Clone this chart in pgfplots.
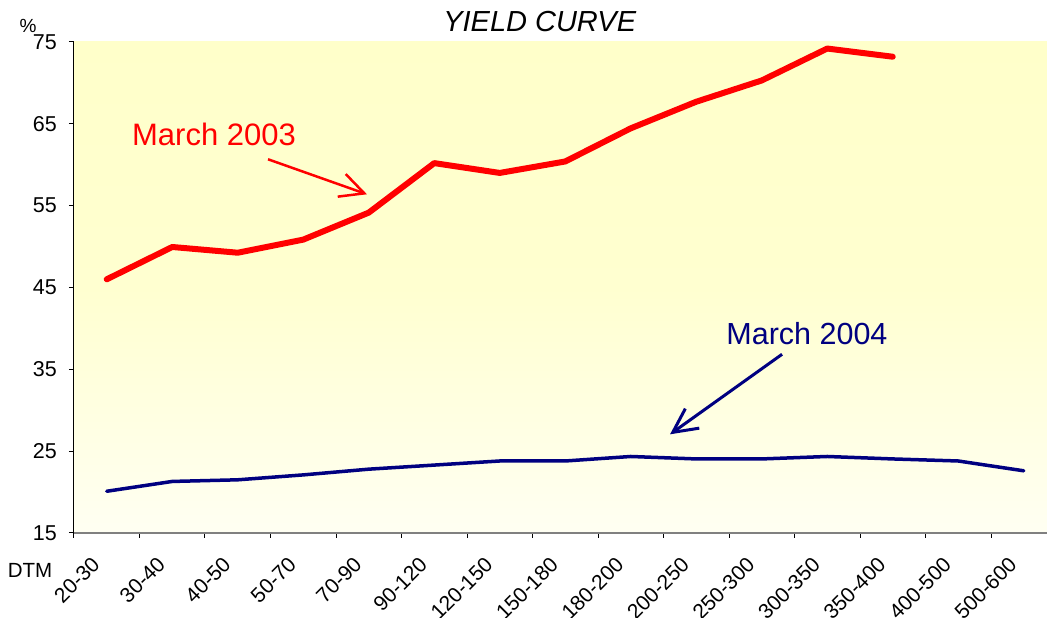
\documentclass[border=0pt]{standalone}
\usepackage{fontspec}
\setmainfont{Liberation Sans}
\usepackage{pgfplots}
\pgfplotsset{compat=1.18}
\usetikzlibrary{arrows.meta}
\definecolor{navyb}{RGB}{0,0,128}
\definecolor{bgtop}{RGB}{255,255,202}
\definecolor{bgbot}{RGB}{255,255,242}
\begin{document}
\begin{tikzpicture}
\begin{axis}[
  scale only axis,
  width=982.5pt, height=491pt,
  xmin=-0.5, xmax=14.5, ymin=15, ymax=75,
  clip=false,
  axis x line*=bottom, axis y line*=left,
  x axis line style={-, draw=gray, line width=1.3pt},
  y axis line style={-, draw=black, line width=1pt},
  axis background/.style={top color=bgtop, bottom color=bgbot, middle color=bgtop!85!bgbot, draw=none},
  tick align=outside,
  major tick length=5pt,
  tick style={draw=black, line width=1pt},
  ytick={15,25,35,45,55,65,75},
  xtick={-0.5,0.5,1.5,2.5,3.5,4.5,5.5,6.5,7.5,8.5,9.5,10.5,11.5,12.5,13.5},
  xticklabels={20-30,30-40,40-50,50-70,70-90,90-120,120-150,150-180,180-200,200-250,250-300,300-350,350-400,400-500,500-600},
  /pgf/number format/assume math mode=true,
  yticklabel style={font=\fontsize{21.5}{24}\selectfont, anchor=east, inner sep=0pt, xshift=-12pt},
  xticklabel style={font=\fontsize{21}{24}\selectfont, inner sep=0pt, xshift=22pt, yshift=-23pt, rotate=45, anchor=east},
]
\addplot[color=red, line width=6pt, line join=round, line cap=round] coordinates {
(0,46.0) (1,49.95) (2,49.25) (3,50.85) (4,54.15) (5,60.2) (6,59.0) (7,60.4) (8,64.45) (9,67.7) (10,70.3) (11,74.2) (12,73.2)
};
\addplot[color=navyb, line width=3.5pt, line join=round, line cap=round] coordinates {
(0,20.1) (1,21.3) (2,21.5) (3,22.1) (4,22.8) (5,23.3) (6,23.8) (7,23.8) (8,24.35) (9,24.05) (10,24.05) (11,24.35) (12,24.05) (13,23.8) (14,22.6)
};
\coordinate (BL) at (axis cs:-0.5,15);
\node[font=\fontsize{29}{34}\selectfont\itshape] at (axis cs:6.61,77.47) {YIELD CURVE};
\node[font=\fontsize{19}{22}\selectfont] at (axis cs:-1.202,76.92) {\%};
\node[font=\fontsize{20.5}{24}\selectfont] at (axis cs:-1.172,10.44) {DTM};
\node[font=\fontsize{31}{36}\selectfont, text=red] at (axis cs:1.637,63.72) {March 2003};
\node[font=\fontsize{30.5}{36}\selectfont, text=navyb] at (axis cs:10.69,39.4) {March 2004};
\draw[red, line width=2.5pt, -{Straight Barb[length=24pt, width=24pt]}] (axis cs:2.462,60.67) -- (axis cs:3.973,56.39);
\draw[navyb, line width=3pt, -{Straight Barb[length=24pt, width=24pt]}] (axis cs:10.31,36.84) -- (axis cs:8.60,27.06);
\end{axis}
\pgfresetboundingbox
\useasboundingbox ([shift={(-74pt,533pt)}]BL) rectangle ([shift={(973pt,-85pt)}]BL);
\end{tikzpicture}
\end{document}
